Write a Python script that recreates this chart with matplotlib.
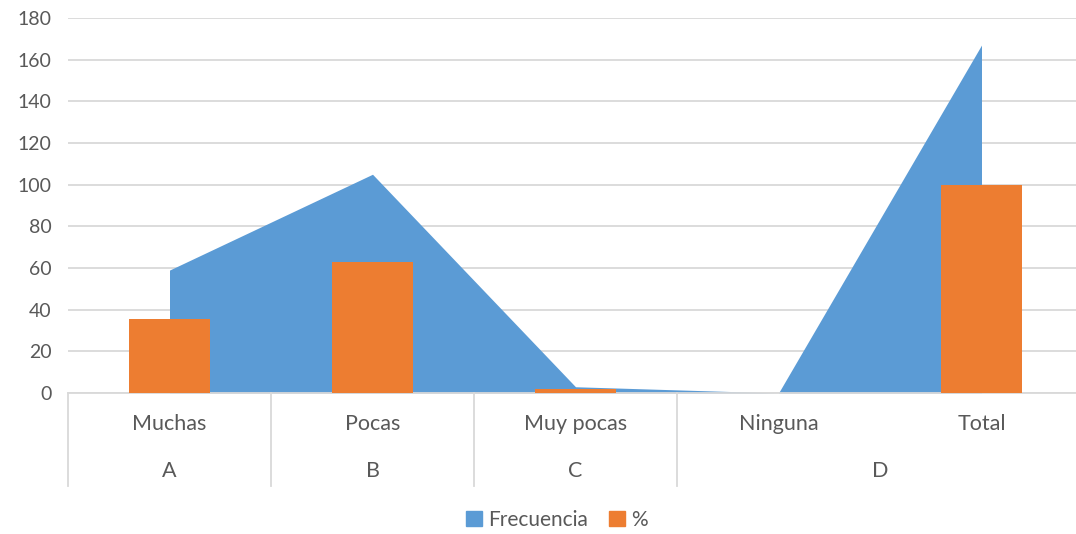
import matplotlib.pyplot as plt
import matplotlib.transforms as mtransforms
from matplotlib.patches import Patch

plt.rcParams['font.family'] = ['Lato', 'DejaVu Sans']

# Data
categorias = ['Muchas', 'Pocas', 'Muy pocas', 'Ninguna', 'Total']
grupos = ['A', 'B', 'C', 'D']
grupo_span = [(0, 0), (1, 1), (2, 2), (3, 4)]  # first and last category index of each group
frecuencia = [59, 105, 3, 0, 167]
porcentaje = [35.3, 62.9, 1.8, 0, 100]

azul = '#5B9BD5'
naranja = '#ED7D31'
gris_txt = '#595959'
gris_lin = '#D9D9D9'

fig = plt.figure(figsize=(10.76, 5.34), dpi=100)
ax = fig.add_axes([68 / 1076, 141 / 534, 1015 / 1076, 375 / 534])

x = list(range(len(categorias)))
ax.fill_between(x, frecuencia, 0, color=azul, linewidth=0, zorder=2)
ax.bar(x, porcentaje, width=0.4, color=naranja, zorder=3)

ax.set_xlim(-0.5, len(categorias) - 0.5)
ax.set_ylim(0, 180)
ax.set_yticks(range(0, 181, 20))
ax.yaxis.grid(True, color=gris_lin, linewidth=1.3, zorder=0)
ax.set_axisbelow(True)
ax.tick_params(axis='y', length=0, pad=12, labelsize=14, labelcolor=gris_txt)
ax.set_xticks([])
for s in ['top', 'right', 'left']:
    ax.spines[s].set_visible(False)
ax.spines['bottom'].set_color(gris_lin)
ax.spines['bottom'].set_linewidth(1.3)

# Two-level category axis below the plot
h = 375.0
trans = mtransforms.blended_transform_factory(ax.transData, ax.transAxes)
for i, c in enumerate(categorias):
    ax.text(i, -31 / h, c, transform=trans, ha='center', va='center',
            fontsize=15.5, color=gris_txt)
for g, (a, b) in zip(grupos, grupo_span):
    ax.text((a + b) / 2, -78 / h, g, transform=trans, ha='center', va='center',
            fontsize=15.5, color=gris_txt)
    ax.plot([a - 0.5, a - 0.5], [0, -93 / h], transform=trans, color=gris_lin,
            linewidth=1.3, clip_on=False)
ax.plot([len(categorias) - 0.5] * 2, [0, -93 / h], transform=trans,
        color=gris_lin, linewidth=1.3, clip_on=False)

handles = [Patch(color=azul, label='Frecuencia'), Patch(color=naranja, label='%')]
fig.legend(handles=handles, loc='center', bbox_to_anchor=(557 / 1076, 1 - 520 / 534),
           ncol=2, frameon=False, fontsize=15, labelcolor=gris_txt,
           handlelength=0.75, handleheight=0.75, handletextpad=0.3, columnspacing=1.0)

fig.savefig('out.png', dpi=100)
